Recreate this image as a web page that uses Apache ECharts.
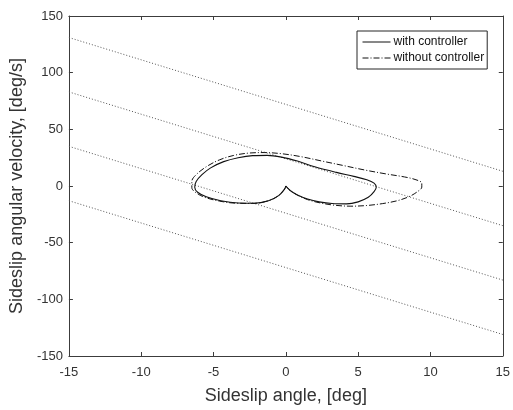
<!DOCTYPE html>
<html>
<head>
<meta charset="utf-8">
<script src="https://cdn.jsdelivr.net/npm/echarts@6/dist/echarts.min.js"></script>
<style>
  html, body { margin: 0; padding: 0; background: #ffffff; }
  #chart { width: 513px; height: 410px; }
</style>
</head>
<body>
<div id="chart"></div>
<script>
// Phase-plane trajectories: sideslip angle [deg] vs sideslip angular velocity [deg/s]
var withController = [
  [0, 0], [0.3, -4], [0.8, -8], [1.5, -11.5], [2.3, -14], [3.2, -15.5], [4.2, -15.8],
  [5.0, -14], [5.7, -10], [6.1, -5], [6.25, -1], [6.1, 2.5], [5.6, 5.5], [4.7, 8.5],
  [3.5, 12], [2.0, 17], [0.8, 22], [-0.3, 25.5], [-1.3, 27], [-2.3, 26.8], [-3.3, 25],
  [-4.3, 21.5], [-5.2, 16], [-5.8, 10], [-6.2, 4], [-6.3, -1], [-6.1, -5.5], [-5.5, -9.5],
  [-4.5, -13], [-3.3, -15], [-2.2, -15.2], [-1.2, -13], [-0.5, -8.5], [-0.1, -3], [0, 0]
];
var withoutController = [
  [0, 0], [0.3, -4], [0.8, -8], [1.5, -12], [2.4, -15], [3.4, -17], [4.5, -17.8],
  [5.6, -17.2], [6.7, -15.5], [7.7, -13], [8.5, -9.5], [9.1, -5], [9.4, -1], [9.4, 2.5],
  [9.0, 5.5], [8.2, 8], [7.0, 10.5], [5.5, 14], [4.0, 18], [2.5, 22], [1.0, 26],
  [-0.3, 28.5], [-1.5, 29.5], [-2.6, 29], [-3.6, 27], [-4.6, 23], [-5.5, 17], [-6.2, 10],
  [-6.5, 4], [-6.5, -1.5], [-6.2, -6], [-5.6, -10], [-4.6, -13.3], [-3.4, -15.2],
  [-2.2, -15.3], [-1.2, -13], [-0.5, -8.5], [-0.1, -3], [0, 0]
];
// Sliding-surface boundary lines: values at beta = -15 and beta = 15
var surfaceX = [-15, 15];
var surfaceLeft = [131, 83, 35, -13];
var surfaceRight = [13, -35, -83, -131];

var xTicks = { min: -15, max: 15, interval: 5 };
var yTicks = { min: -150, max: 150, interval: 50 };

var axisColor = '#3c3c3c';
var textColor = '#333333';
var lineColor = '#111111';
var fontFamily = 'Liberation Sans, Arial, sans-serif';

var series = [];
for (var i = 0; i < surfaceLeft.length; i++) {
  series.push({
    type: 'line',
    name: 'surface' + i,
    data: [[surfaceX[0], surfaceLeft[i]], [surfaceX[1], surfaceRight[i]]],
    showSymbol: false,
    symbol: 'none',
    silent: true,
    itemStyle: { color: '#555555' },
    lineStyle: { color: '#555555', width: 1, type: [1, 2] },
    z: 2
  });
}
series.push({
  type: 'line',
  name: 'with controller',
  data: withController,
  symbol: 'none',
  smooth: 0.35,
  itemStyle: { color: lineColor },
  lineStyle: { color: lineColor, width: 1.1, type: 'solid' },
  z: 4
});
series.push({
  type: 'line',
  name: 'without controller',
  data: withoutController,
  symbol: 'none',
  smooth: 0.35,
  itemStyle: { color: lineColor },
  lineStyle: { color: lineColor, width: 1, type: [6, 2, 1, 2] },
  z: 3
});

var chart = echarts.init(document.getElementById('chart'), null, { renderer: 'canvas' });

function mainAxis(cfg, extra) {
  return Object.assign({
    type: 'value',
    min: cfg.min,
    max: cfg.max,
    interval: cfg.interval,
    splitLine: { show: false },
    axisLine: { show: true, onZero: false, lineStyle: { color: axisColor, width: 1 } },
    axisTick: { show: true, inside: true, length: 4, lineStyle: { color: axisColor } },
    axisLabel: { color: textColor, fontSize: 13, fontFamily: fontFamily }
  }, extra);
}

chart.setOption({
  animation: false,
  backgroundColor: '#ffffff',
  grid: { left: 67, right: 10, top: 16, bottom: 51, containLabel: false },
  legend: {
    data: ['with controller', 'without controller'],
    orient: 'vertical',
    left: 357,
    top: 31,
    padding: [5, 3, 5, 5],
    itemGap: 4,
    itemWidth: 28,
    itemHeight: 10,
    backgroundColor: '#ffffff',
    borderColor: '#262626',
    borderWidth: 1,
    borderRadius: 0,
    itemStyle: { color: 'rgba(0,0,0,0)', borderWidth: 0, opacity: 0 },
    lineStyle: { width: 1 },
    textStyle: { color: '#111111', fontSize: 12, fontFamily: fontFamily, padding: [0, 0, 0, -2] }
  },
  xAxis: [
    mainAxis(xTicks, {
      position: 'bottom',
      name: 'Sideslip angle, [deg]',
      nameLocation: 'middle',
      nameGap: 31,
      nameTextStyle: { color: textColor, fontSize: 18, fontFamily: fontFamily },
      axisLabel: { color: textColor, fontSize: 13, fontFamily: fontFamily, margin: 10 }
    }),
    mainAxis(xTicks, { position: 'top', axisLabel: { show: false } })
  ],
  yAxis: [
    mainAxis(yTicks, {
      position: 'left',
      name: 'Sideslip angular velocity, [deg/s]',
      nameLocation: 'middle',
      nameGap: 36,
      nameTextStyle: { color: textColor, fontSize: 18, fontFamily: fontFamily },
      axisLabel: { color: textColor, fontSize: 13, fontFamily: fontFamily, margin: 6 }
    }),
    mainAxis(yTicks, { position: 'right', axisLabel: { show: false } })
  ],
  series: series
});
</script>
</body>
</html>
